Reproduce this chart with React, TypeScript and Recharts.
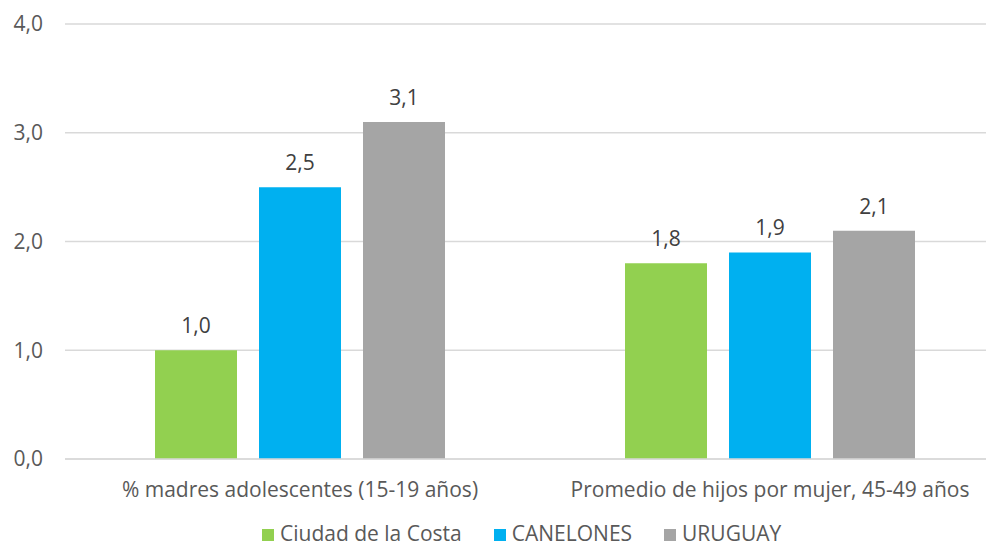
import React from 'react';
import { BarChart, Bar, XAxis, YAxis, CartesianGrid, LabelList } from 'recharts';

const categories = ['% madres adolescentes (15-19 años)', 'Promedio de hijos por mujer, 45-49 años'];
const ciudadDeLaCosta = [1.0, 1.8];
const canelones = [2.5, 1.9];
const uruguay = [3.1, 2.1];
const yTicks = [0, 1, 2, 3, 4];

const series = [
  { key: 'ciudad', name: 'Ciudad de la Costa', color: '#92D050' },
  { key: 'canelones', name: 'CANELONES', color: '#00B0F0' },
  { key: 'uruguay', name: 'URUGUAY', color: '#A5A5A5' },
];

const data = categories.map((c, i) => ({
  category: c,
  ciudad: ciudadDeLaCosta[i],
  canelones: canelones[i],
  uruguay: uruguay[i],
}));

const fmt = (v: number) => v.toFixed(1).replace('.', ',');
const FONT = '"Open Sans", sans-serif';

const ChartLegend = () => (
  <div
    style={{
      position: 'absolute',
      left: 262,
      top: 522,
      display: 'flex',
      alignItems: 'center',
      fontFamily: FONT,
      fontSize: 21,
      color: '#595959',
      lineHeight: '22px',
    }}
  >
    {series.map((s) => (
      <div key={s.key} style={{ display: 'flex', alignItems: 'center', marginRight: 32 }}>
        <span style={{ width: 12, height: 12, background: s.color, display: 'inline-block', marginRight: 6, marginTop: 3 }} />
        <span>{s.name}</span>
      </div>
    ))}
  </div>
);

export default function App() {
  return (
    <div style={{ position: 'relative', margin: -8, width: 994, height: 553, overflow: 'hidden', background: '#fff' }}>
      <BarChart
        width={1005}
        height={553}
        data={data}
        margin={{ top: 24, right: 0, left: 0, bottom: 44 }}
        barCategoryGap={90}
        barGap={22}
      >
        <CartesianGrid vertical={false} stroke="#D9D9D9" strokeWidth={1.3} />
        <XAxis
          dataKey="category"
          height={50}
          axisLine={{ stroke: '#D9D9D9', strokeWidth: 1.3 }}
          tickLine={false}
          tickSize={0}
          tickMargin={23}
          tick={{ fill: '#595959', fontSize: 21, fontFamily: FONT }}
          interval={0}
        />
        <YAxis
          width={65}
          domain={[0, 4]}
          ticks={yTicks}
          tickFormatter={fmt}
          axisLine={false}
          tickLine={false}
          tickSize={0}
          tickMargin={22}
          tick={{ fill: '#595959', fontSize: 21, fontFamily: FONT }}
        />
        {series.map((s) => (
          <Bar key={s.key} dataKey={s.key} name={s.name} fill={s.color} isAnimationActive={false}>
            <LabelList
              dataKey={s.key}
              position="top"
              offset={17}
              formatter={(v: any) => fmt(Number(v))}
              style={{ fill: '#404040', fontSize: 21, fontFamily: FONT }}
            />
          </Bar>
        ))}
      </BarChart>
      <ChartLegend />
    </div>
  );
}
